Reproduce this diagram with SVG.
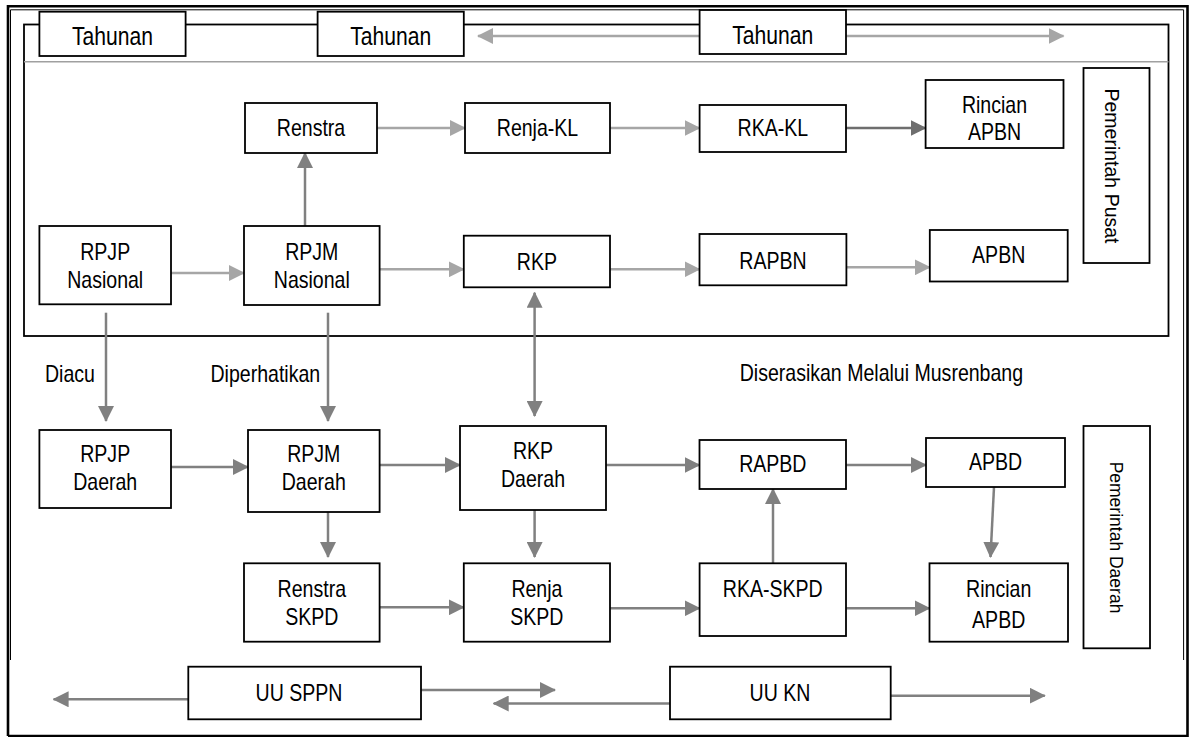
<svg xmlns="http://www.w3.org/2000/svg" width="1189" height="737" viewBox="0 0 1189 737">
<style>
.box{fill:#fff;stroke:#000;stroke-width:1.8}
.t{font-family:'Liberation Sans',Arial,sans-serif;font-size:23px;fill:#000;text-anchor:middle;transform-box:fill-box;transform-origin:center;transform:scaleX(0.85)}
.th{font-size:25px;transform:scaleX(0.845)}
.lbl{text-anchor:start;transform-origin:left center}
.rot{font-family:'Liberation Sans',Arial,sans-serif;fill:#000;text-anchor:middle}
.cl{fill:none;stroke:#A6A6A6;stroke-width:2.5}
.cd{fill:none;stroke:#808080;stroke-width:2.5}
.cdk{fill:none;stroke:#6E6E6E;stroke-width:2.5}
</style>
<defs>
<marker id="aL" markerUnits="userSpaceOnUse" markerWidth="16" markerHeight="16" viewBox="0 0 16 16" refX="15" refY="8" orient="auto-start-reverse"><path d="M0,0 L16,8 L0,16 z" fill="#A6A6A6"/></marker>
<marker id="aD" markerUnits="userSpaceOnUse" markerWidth="16" markerHeight="16" viewBox="0 0 16 16" refX="15" refY="8" orient="auto-start-reverse"><path d="M0,0 L16,8 L0,16 z" fill="#808080"/></marker>
<marker id="aK" markerUnits="userSpaceOnUse" markerWidth="16" markerHeight="16" viewBox="0 0 16 16" refX="15" refY="8" orient="auto-start-reverse"><path d="M0,0 L16,8 L0,16 z" fill="#6E6E6E"/></marker>
</defs>
<rect width="1189" height="737" fill="#fff"/>
<!-- outer frame -->
<g id="frame">
<path d="M8,736 V6.2 H1187.5 V736 H8" fill="none" stroke="#000" stroke-width="2.6"/>
<path d="M10.5,660 V9.8 H1183.6 V660" fill="none" stroke="#000" stroke-width="1"/>
<rect id="pusat-frame" x="24" y="24.5" width="1144.5" height="311.5" fill="none" stroke="#000" stroke-width="1.8"/>
<line x1="24" y1="61.7" x2="1168.5" y2="61.7" stroke="#A0A0A0" stroke-width="1.6"/>
</g>
<!-- connectors -->
<g id="connectors">
<line class="cl" x1="699.6" y1="36" x2="478" y2="36" marker-end="url(#aL)"/>
<line class="cl" x1="846" y1="36" x2="1063.5" y2="36" marker-end="url(#aL)"/>
<line class="cl" x1="377" y1="128" x2="465" y2="128" marker-end="url(#aL)"/>
<line class="cl" x1="610" y1="128" x2="699.6" y2="128" marker-end="url(#aL)"/>
<line class="cdk" x1="846" y1="128" x2="925.6" y2="128" marker-end="url(#aK)"/>
<line class="cd" x1="305" y1="226" x2="305" y2="153" marker-end="url(#aD)"/>
<line class="cl" x1="171" y1="273" x2="244" y2="273" marker-end="url(#aL)"/>
<line class="cl" x1="379.6" y1="269.3" x2="463.8" y2="269.3" marker-end="url(#aL)"/>
<line class="cl" x1="610" y1="269.3" x2="699.5" y2="269.3" marker-end="url(#aL)"/>
<line class="cl" x1="846.4" y1="267.3" x2="929.8" y2="267.3" marker-end="url(#aL)"/>
<line class="cd" x1="106" y1="312.7" x2="106" y2="421" marker-end="url(#aD)"/>
<line class="cd" x1="328" y1="312.7" x2="328" y2="421" marker-end="url(#aD)"/>
<line class="cd" x1="534.6" y1="292.7" x2="534.6" y2="416" marker-start="url(#aD)" marker-end="url(#aD)"/>
<line class="cd" x1="171" y1="467" x2="248" y2="467" marker-end="url(#aD)"/>
<line class="cd" x1="379.6" y1="465" x2="460" y2="465" marker-end="url(#aD)"/>
<line class="cd" x1="606" y1="465" x2="699.5" y2="465" marker-end="url(#aD)"/>
<line class="cd" x1="846" y1="465" x2="926" y2="465" marker-end="url(#aD)"/>
<line class="cd" x1="328" y1="512" x2="328" y2="557" marker-end="url(#aD)"/>
<line class="cd" x1="534.6" y1="510" x2="534.6" y2="557" marker-end="url(#aD)"/>
<line class="cd" x1="773" y1="563.3" x2="773" y2="489" marker-end="url(#aD)"/>
<line class="cd" x1="994" y1="487" x2="990.5" y2="557" marker-end="url(#aD)"/>
<line class="cd" x1="379.6" y1="607.3" x2="463.8" y2="607.3" marker-end="url(#aD)"/>
<line class="cd" x1="610" y1="608.3" x2="699.6" y2="608.3" marker-end="url(#aD)"/>
<line class="cd" x1="846" y1="608.3" x2="929.5" y2="608.3" marker-end="url(#aD)"/>
<line class="cd" x1="188.3" y1="699.3" x2="53.6" y2="699.3" marker-end="url(#aD)"/>
<line class="cd" x1="421" y1="690" x2="555" y2="690" marker-end="url(#aD)"/>
<line class="cd" x1="670" y1="703.5" x2="493.7" y2="703.5" marker-end="url(#aD)"/>
<line class="cd" x1="890.7" y1="695.7" x2="1044.8" y2="695.7" marker-end="url(#aD)"/>
</g>
<!-- Tahunan -->
<g id="tahunan1"><rect class="box" x="39.4" y="11.7" width="146.2" height="44.3"/><text class="t th" x="112.5" y="45.5">Tahunan</text></g>
<g id="tahunan2"><rect class="box" x="317.6" y="11.7" width="146.2" height="44.3"/><text class="t th" x="390.7" y="45.5">Tahunan</text></g>
<g id="tahunan3"><rect class="box" x="699.6" y="10" width="146.4" height="44"/><text class="t th" x="772.8" y="44.5">Tahunan</text></g>
<!-- Pusat -->
<g id="renstra"><rect class="box" x="245" y="103" width="132" height="50"/><text class="t" x="311" y="136">Renstra</text></g>
<g id="renja-kl"><rect class="box" x="465" y="103" width="145" height="50"/><text class="t" x="537.5" y="136">Renja-KL</text></g>
<g id="rka-kl"><rect class="box" x="699.6" y="105" width="146.4" height="47"/><text class="t" x="772.8" y="136.5">RKA-KL</text></g>
<g id="rincian-apbn"><rect class="box" x="925.6" y="80" width="137.9" height="68"/><text class="t" x="994.5" y="113">Rincian</text><text class="t" x="994.5" y="140.5">APBN</text></g>
<g id="pemerintah-pusat"><rect class="box" x="1083.5" y="68" width="66" height="195"/><text class="rot" font-size="19.5" transform="translate(1105,166) rotate(90)">Pemerintah Pusat</text></g>
<g id="rpjp-nasional"><rect class="box" x="39.4" y="226" width="131.6" height="78.3"/><text class="t" x="105.2" y="260">RPJP</text><text class="t" x="105.2" y="288.3">Nasional</text></g>
<g id="rpjm-nasional"><rect class="box" x="244" y="226" width="135.6" height="79"/><text class="t" x="311.8" y="260">RPJM</text><text class="t" x="311.8" y="288.3">Nasional</text></g>
<g id="rkp"><rect class="box" x="463.8" y="235.7" width="146.2" height="51.6"/><text class="t" x="536.9" y="270">RKP</text></g>
<g id="rapbn"><rect class="box" x="699.5" y="234" width="146.9" height="51.3"/><text class="t" x="773" y="269">RAPBN</text></g>
<g id="apbn"><rect class="box" x="929.8" y="230" width="137.9" height="51.5"/><text class="t" x="998.7" y="263.5">APBN</text></g>
<!-- labels -->
<g id="labels">
<text class="t lbl" x="45" y="382">Diacu</text>
<text class="t lbl" x="210.5" y="382">Diperhatikan</text>
<text class="t lbl" x="739.7" y="381">Diserasikan Melalui Musrenbang</text>
</g>
<!-- Daerah -->
<g id="rpjp-daerah"><rect class="box" x="39.4" y="430" width="131.6" height="78"/><text class="t" x="105.2" y="462">RPJP</text><text class="t" x="105.2" y="490">Daerah</text></g>
<g id="rpjm-daerah"><rect class="box" x="248" y="430" width="131.6" height="82"/><text class="t" x="313.8" y="462">RPJM</text><text class="t" x="313.8" y="490">Daerah</text></g>
<g id="rkp-daerah"><rect class="box" x="460" y="426" width="146" height="84"/><text class="t" x="533" y="459">RKP</text><text class="t" x="533" y="487">Daerah</text></g>
<g id="rapbd"><rect class="box" x="699.5" y="440" width="146.5" height="49"/><text class="t" x="772.8" y="472.5">RAPBD</text></g>
<g id="apbd"><rect class="box" x="926" y="438" width="139" height="49"/><text class="t" x="995.5" y="470.5">APBD</text></g>
<g id="pemerintah-daerah"><rect class="box" x="1083.5" y="426" width="66.5" height="222.3"/><text class="rot" font-size="17.5" transform="translate(1109.5,537.5) rotate(90)">Pemerintah Daerah</text></g>
<g id="renstra-skpd"><rect class="box" x="244" y="563.3" width="135.6" height="78.4"/><text class="t" x="311.8" y="596.7">Renstra</text><text class="t" x="311.8" y="625">SKPD</text></g>
<g id="renja-skpd"><rect class="box" x="463.8" y="563.3" width="146.2" height="78.4"/><text class="t" x="536.9" y="596.7">Renja</text><text class="t" x="536.9" y="625">SKPD</text></g>
<g id="rka-skpd"><rect class="box" x="699.6" y="563.3" width="146.4" height="72.7"/><text class="t" x="772.8" y="597">RKA-SKPD</text></g>
<g id="rincian-apbd"><rect class="box" x="929.5" y="563.3" width="138.5" height="78.4"/><text class="t" x="998.7" y="597">Rincian</text><text class="t" x="998.7" y="628">APBD</text></g>
<g id="uu-sppn"><rect class="box" x="188.3" y="666.7" width="232.7" height="52.6"/><text class="t" x="299" y="701">UU SPPN</text></g>
<g id="uu-kn"><rect class="box" x="670" y="666.7" width="220.7" height="52.6"/><text class="t" x="780" y="701">UU KN</text></g>
</svg>
